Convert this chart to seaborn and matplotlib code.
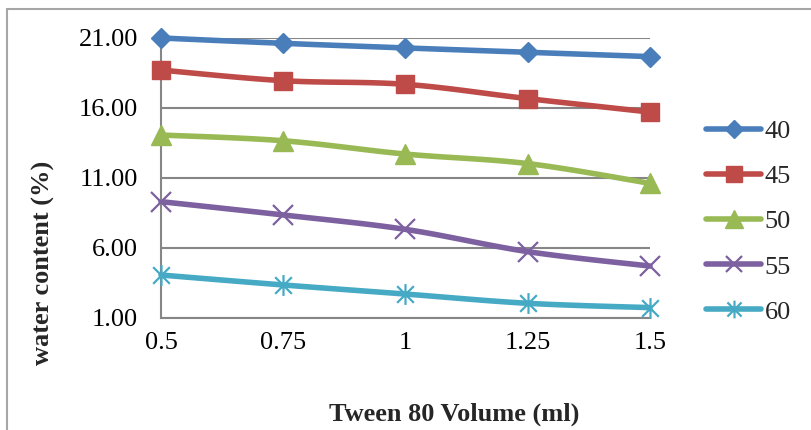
import numpy as np
import pandas as pd
import matplotlib
matplotlib.use("Agg")
import matplotlib.pyplot as plt
from matplotlib.lines import Line2D
from matplotlib.path import Path
from matplotlib.patches import Rectangle
import seaborn as sns

# ---- data ----
volumes = ["0.5", "0.75", "1", "1.25", "1.5"]
series_names = ["40", "45", "50", "55", "60"]
s40 = [21.00, 20.62, 20.29, 19.98, 19.67]
s45 = [18.71, 17.95, 17.69, 16.67, 15.71]
s50 = [14.07, 13.66, 12.71, 12.03, 10.62]
s55 = [9.31, 8.36, 7.33, 5.74, 4.71]
s60 = [4.07, 3.36, 2.71, 2.05, 1.74]
yticks = [1, 6, 11, 16, 21]
x_title = "Tween 80 Volume (ml)"
y_title = "water content (%)"

values = [s40, s45, s50, s55, s60]
colors = ["#4A7EBB", "#BE4B48", "#98B954", "#7D60A0", "#46AAC5"]

star = Path([(-1, -1), (1, 1), (-1, 1), (1, -1), (0, -1.25), (0, 1.25)],
            [Path.MOVETO, Path.LINETO, Path.MOVETO, Path.LINETO, Path.MOVETO, Path.LINETO])
markers = ["D", "s", "^", "x", star]
msizes = [10.5, 13.5, 14.5, 14, 15]
filled = [True, True, True, False, False]

sns.set_style("white")
plt.rcParams["font.family"] = ["Liberation Serif", "DejaVu Serif"]
FS = 19

def smooth(xs, ys, n=30):
    pts = np.column_stack([xs, ys]).astype(float)
    m = len(pts)
    out = [pts[0:1]]
    t = np.linspace(0, 1, n)[1:, None]
    for i in range(m - 1):
        p0 = pts[max(i - 1, 0)]
        p1 = pts[i]
        p2 = pts[i + 1]
        p3 = pts[min(i + 2, m - 1)]
        c1 = p1 + (p2 - p0) / 6.0
        c2 = p2 - (p3 - p1) / 6.0
        b = ((1 - t) ** 3) * p1 + 3 * ((1 - t) ** 2) * t * c1 + 3 * (1 - t) * t ** 2 * c2 + t ** 3 * p2
        out.append(b)
    return np.vstack(out)

xidx = np.arange(len(volumes))
rows = []
for name, vals in zip(series_names, values):
    c = smooth(xidx, vals)
    for k, (xx, yy) in enumerate(c):
        rows.append({"x": xx, "y": yy, "series": name, "order": k})
curve_df = pd.DataFrame(rows)

W, H = 812, 430
fig = plt.figure(figsize=(W / 100, H / 100), dpi=100)
ax = fig.add_axes([161 / W, 1 - 318 / H, (650 - 161) / W, (318 - 38) / H])

# outer chart frame
fig.patches.append(Rectangle((7 / W, -0.2), 1.2, 1 - 9 / H + 0.2, transform=fig.transFigure,
                             fill=False, edgecolor="#A6A6A6", lw=1.5, clip_on=False))

ax.set_ylim(1, 21)
ax.set_xlim(0, len(volumes) - 1)
ax.set_yticks(yticks)
ax.set_yticklabels([f"{v:.2f}" for v in yticks])
ax.set_xticks(xidx)
ax.set_xticklabels(volumes)
ax.grid(axis="y", color="#868686", lw=1.5)
ax.grid(axis="x", visible=False)
ax.set_axisbelow(True)
for sp in ["top", "right"]:
    ax.spines[sp].set_visible(False)
for sp in ["left", "bottom"]:
    ax.spines[sp].set_color("#868686")
    ax.spines[sp].set_linewidth(1.5)
ax.tick_params(axis="y", length=0, pad=16.5, labelsize=FS, colors="black")
ax.tick_params(axis="x", length=0, pad=10, labelsize=FS, colors="black")

sns.lineplot(data=curve_df, x="x", y="y", hue="series", palette=dict(zip(series_names, colors)),
             sort=False, estimator=None, units="series", lw=4, legend=False, ax=ax)
for ln in ax.lines:
    ln.set_clip_on(False)
    ln.set_solid_capstyle("round")

for name, vals, col, mk, ms, fl in zip(series_names, values, colors, markers, msizes, filled):
    ax.plot(xidx, vals, linestyle="none", marker=mk, ms=ms, color=col,
            mfc=col if fl else "none", mec=col, mew=1.0 if fl else 1.6, clip_on=False, zorder=5)

ax.set_xlabel("")
ax.set_ylabel("")

fig.text(454 / W, 1 - 414 / H, x_title, ha="center", va="center", fontsize=FS, fontweight="bold")
fig.text(43 / W, 1 - 263 / H, y_title, ha="center", va="center", rotation=90, fontsize=FS,
         fontweight="bold")

handles = []
for name, col, mk, ms, fl in zip(series_names, colors, markers, msizes, filled):
    handles.append(Line2D([], [], color=col, lw=4, marker=mk, ms=ms * 0.85, mfc=col if fl else "none",
                          mec=col, mew=1.0 if fl else 1.6, solid_capstyle="round"))
fig.legend(handles, series_names, loc="center left", bbox_to_anchor=(706 / W, 1 - 221.7 / H),
           frameon=False, fontsize=FS, handlelength=2.1, handletextpad=0.12, labelspacing=0.82,
           borderpad=0, borderaxespad=0, numpoints=1)

fig.savefig("out.png", dpi=100, facecolor="white")
